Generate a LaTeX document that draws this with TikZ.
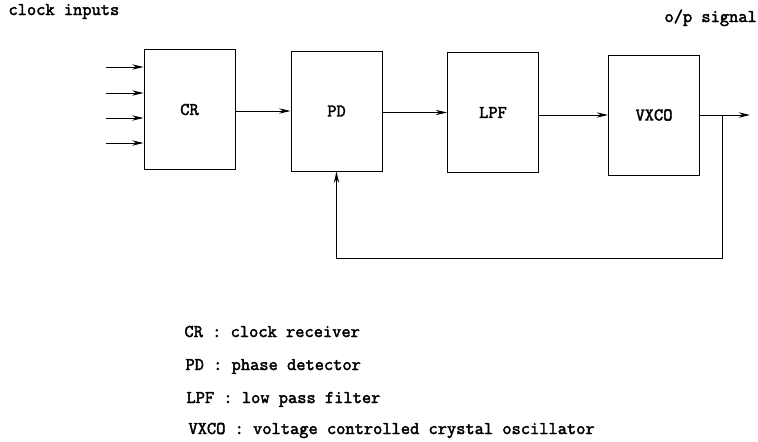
\documentclass[tikz,border=0pt]{standalone}
\usepackage{fontspec}
\setmonofont{Latin Modern Mono}[FakeBold=2.4]
\usepackage{tikz}
\usetikzlibrary{arrows.meta}

\begin{document}
\begin{tikzpicture}[x=0.03cm, y=-0.03cm, >={Stealth[length=0.34cm, width=0.16cm]},
      line width=0.85pt,
      every node/.style={font=\ttfamily\fontsize{15.3}{17}\selectfont},
      blk/.style={draw, minimum width=2.73cm, minimum height=3.6cm, inner sep=0pt},
      lbl/.style={anchor=base west, inner sep=0pt},
      legend/.style={anchor=base west, inner sep=0pt}]

    \useasboundingbox (0,0) rectangle (758,441);

    % ---- Blocks ----
    \node[blk] (cr)   at (189.5,109.5) {CR};
    \node[blk] (pd)   at (336.5,111)   {PD};
    \node[blk] (lpf)  at (493,112.5)   {LPF};
    \node[blk] (vxco) at (654,115)     {VXCO};

    % ---- Clock inputs into CR ----
    \node[lbl] (inlbl) at (8,15) {clock inputs};
    \foreach \i/\y in {1/67, 2/93, 3/118, 4/143} {
      \coordinate (in\i) at (106,\y);
      \draw[->] (in\i) -- (in\i -| cr.west);
    }

    % ---- Forward path ----
    \draw[->] (cr.east |- pd.west) -- (pd.west);
    \draw[->] (pd.east |- lpf.west) -- (lpf.west);
    \draw[->] (lpf.east |- vxco.west) -- (vxco.west);

    % ---- Output ----
    \node[lbl] (outlbl) at (664,22) {o/p signal};
    \coordinate (out) at (750,115);
    \draw[->] (vxco.east) -- (out);

    % ---- Feedback: tap right of VXCO, down, left, up into PD ----
    \coordinate (tap) at (722,115);
    \coordinate (fb) at (722,258);
    \draw[->] (tap) -- (fb) -| (pd.south);

    % ---- Legend ----
    \node[legend] (l1) at (184,337) {CR : clock receiver};
    \node[legend] (l2) at (185,370) {PD : phase detector};
    \node[legend] (l3) at (186,403) {LPF : low pass filter};
    \node[legend] (l4) at (188,434) {VXCO : voltage controlled crystal oscillator};

\end{tikzpicture}
\end{document}
